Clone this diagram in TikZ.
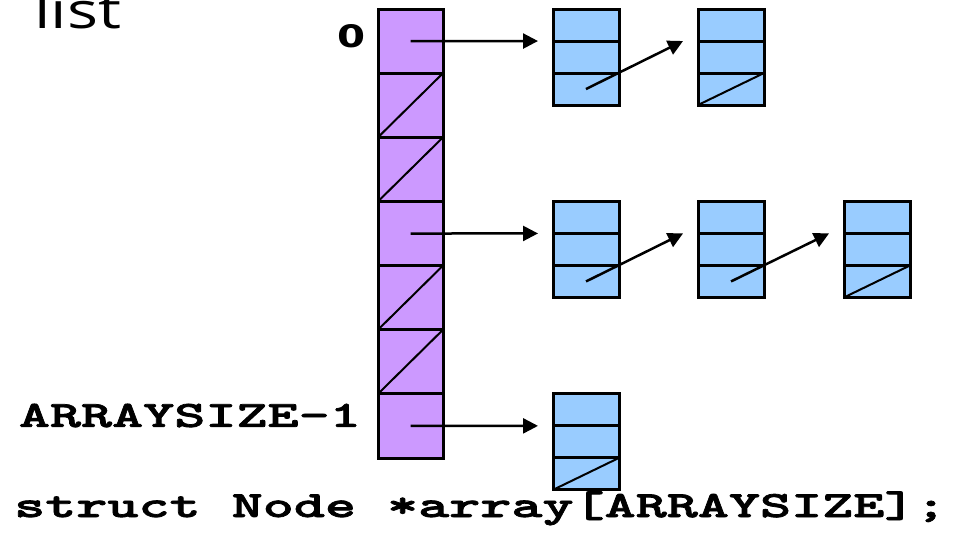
\documentclass[tikz,border=0pt]{standalone}
\usepackage{fontspec}
\usepackage{tikz}
\usetikzlibrary{positioning,calc,arrows.meta,shapes.multipart}
\newfontfamily\titlefont[FakeStretch=1.3]{Open Sans}
\newfontfamily\digitfont[FakeStretch=1.3]{DejaVu Sans}
\newfontfamily\codefont[FakeStretch=1.6, FakeBold=2, Extension=.otf]{lmmonolt10-bold}
\definecolor{slotpurple}{HTML}{CC99FF}
\definecolor{nodeblue}{HTML}{99CCFF}
\tikzset{
	slot/.style={rectangle, draw=black, line width=3pt, fill=slotpurple, minimum width=65pt, minimum height=64.14pt, inner sep=0pt, outer sep=0pt},
	listnode/.style={rectangle split, rectangle split parts=3, draw=black, line width=3pt, fill=nodeblue, minimum width=66pt, inner sep=0pt, outer sep=0pt, rectangle split empty part height=29pt, rectangle split empty part depth=0pt},
	ptr/.style={-{Triangle[length=15pt,width=15pt]}, line width=2.5pt},
	null/.style={line width=2pt},
	code/.style={font=\codefont\fontsize{37}{37}\selectfont, inner sep=0pt}
}

\begin{document}
\begin{tikzpicture}[x=1pt, y=-1pt]
\useasboundingbox (0,0) rectangle (971,535);
\node[font=\titlefont\fontsize{50}{50}\selectfont, inner sep=0pt, anchor=base west] (title) at (34,29) {list};
\node[slot] (a0) at (410.5,41.1) {};
\node[slot] (a1) [below=0pt of a0] {};
\node[slot] (a2) [below=0pt of a1] {};
\node[slot] (a3) [below=0pt of a2] {};
\node[slot] (a4) [below=0pt of a3] {};
\node[slot] (a5) [below=0pt of a4] {};
\node[slot] (a6) [below=0pt of a5] {};
\node[font=\digitfont\bfseries\fontsize{31}{31}\selectfont, inner sep=0pt] (zero) [left=12pt of a0, yshift=5pt] {0};
\node[code] (last) [left=17pt of a6, yshift=10.4pt] {ARRAYSIZE-1};
\node[listnode] (n00) [right=110pt of a0.north east, anchor=north west] {};
\node[listnode] (n01) [right=79pt of n00] {};
\node[listnode] (n30) [right=110pt of a3.north east, anchor=north west] {};
\node[listnode] (n31) [right=79pt of n30] {};
\node[listnode] (n32) [right=80pt of n31] {};
\node[listnode] (n60) [right=110pt of a6.north east, anchor=north west] {};
\node[code, anchor=base west] (decl) at (14,517) {struct Node *array[ARRAYSIZE];};

% empty slots
\draw[null] (a1.south west) -- (a1.north east);
\draw[null] (a2.south west) -- (a2.north east);
\draw[null] (a4.south west) -- (a4.north east);
\draw[null] (a5.south west) -- (a5.north east);
% slot pointers
\draw[ptr] (a0.center) -- ([xshift=-15pt]n00.one split west);
\draw[ptr] (a3.center) -- ([xshift=-15pt]n30.one split west);
\draw[ptr] (a6.center) -- ([xshift=-15pt]n60.one split west);
% next pointers
\draw[ptr] ($(n00.two split)!.5!(n00.south)$) -- ([xshift=-15pt]n01.one split west);
\draw[ptr] ($(n30.two split)!.5!(n30.south)$) -- ([xshift=-15pt]n31.one split west);
\draw[ptr] ($(n31.two split)!.5!(n31.south)$) -- ([xshift=-15pt]n32.one split west);
% end of list
\draw[null] (n01.south west) -- (n01.two split east);
\draw[null] (n32.south west) -- (n32.two split east);
\draw[null] (n60.south west) -- (n60.two split east);
\end{tikzpicture}
\end{document}
